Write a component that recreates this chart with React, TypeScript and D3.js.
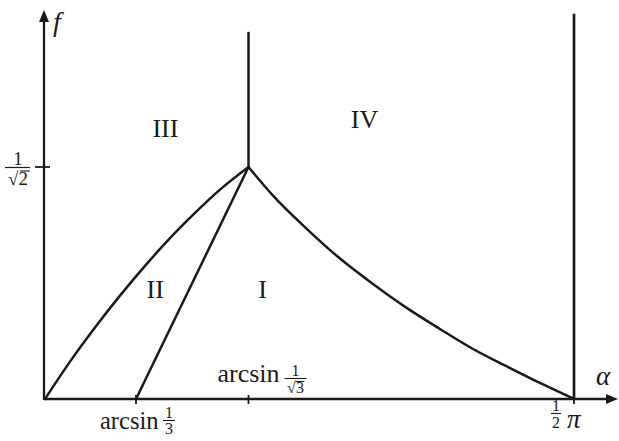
import React from "react";
import * as d3 from "d3";

// Characteristic angles on the α axis and the level on the f axis
const A1 = Math.asin(1 / 3);
const A2 = Math.asin(1 / Math.sqrt(3));
const A3 = Math.PI / 2;
const F1 = 1 / Math.SQRT2;

// Boundary between regions II and III (curved, concave)
const curveIIIII: [number, number][] = [
  [0, 0],
  [0.0934, 0.114],
  [0.1867, 0.218],
  [0.2801, 0.315],
  [0.3656, 0.411],
  [0.4231, 0.49],
  [0.4844, 0.567],
  [0.5456, 0.638],
  [A2, F1],
];

// Boundary between regions I and II (straight)
const lineIII: [number, number][] = [
  [A1, 0],
  [A2, F1],
];

// Boundary between regions I and IV (curved, convex)
const curveIIV: [number, number][] = [
  [A2, F1],
  [0.6874, 0.62],
  [0.7872, 0.518],
  [0.884, 0.428],
  [0.9809, 0.3505],
  [1.0807, 0.277],
  [1.1775, 0.2134],
  [1.2744, 0.1524],
  [1.3742, 0.0991],
  [1.471, 0.0488],
  [A3, 0],
];

// Boundary between regions III and IV (vertical)
const lineIIIIV: [number, number][] = [
  [A2, F1],
  [A2, 1.119],
];

// Right-hand limit α = π/2
const lineRight: [number, number][] = [
  [A3, 0],
  [A3, 1.174],
];

const regionNames = ["I", "II", "III", "IV"];
const regionAlpha = [0.657, 0.387, 0.412, 0.956];
const regionF = [0.308, 0.308, 0.799, 0.826];

const INK = "#1a1a1a";
const SERIF = "'Liberation Serif', 'Times New Roman', serif";

export default function App() {
  const width = 619;
  const height = 441;

  // schematic (piecewise) α axis
  const x = d3
    .scaleLinear()
    .domain([0, A1, A2, A3])
    .range([45, 136, 248.5, 574]);
  const y = d3.scaleLinear().domain([0, F1]).range([399, 167]);

  const line = d3
    .line<[number, number]>()
    .x((d) => x(d[0]))
    .y((d) => y(d[1]));
  const smooth = d3
    .line<[number, number]>()
    .x((d) => x(d[0]))
    .y((d) => y(d[1]))
    .curve(d3.curveMonotoneX);

  const x0 = x(0) - 1;
  const y0 = y(0);
  const xEnd = 618;
  const yTop = 10;

  const lw = 2.3;
  const fracSize = 16;

  const tA1 = x(A1);
  const tA2 = x(A2);
  const tA3 = x(A3);
  const tF = y(F1);

  return (
    <svg
      width={width}
      height={height}
      style={{ position: "absolute", left: 0, top: 0, background: "#fff" }}
      fontFamily={SERIF}
    >
      {/* axes */}
      <line x1={x0} y1={y0} x2={xEnd - 8} y2={y0} stroke={INK} strokeWidth={lw} />
      <path d={`M${xEnd},${y0} L${xEnd - 12},${y0 - 5} L${xEnd - 12},${y0 + 5} Z`} fill={INK} />
      <line x1={x0} y1={y0 + 1} x2={x0} y2={yTop + 8} stroke={INK} strokeWidth={lw} />
      <path d={`M${x0},${yTop} L${x0 - 5},${yTop + 12} L${x0 + 5},${yTop + 12} Z`} fill={INK} />

      {/* ticks */}
      {[tA1, tA2, tA3].map((t, i) => (
        <line key={i} x1={t} x2={t} y1={y0 - 4} y2={y0 + 5} stroke={INK} strokeWidth={1.8} />
      ))}
      <line x1={x0 - 9} x2={x0 + 6} y1={tF} y2={tF} stroke={INK} strokeWidth={1.8} />

      {/* boundaries */}
      <g fill="none" stroke={INK} strokeWidth={2.5} strokeLinejoin="round" strokeLinecap="round">
        <path d={smooth(curveIIIII) ?? ""} />
        <path d={line(lineIII) ?? ""} />
        <path d={smooth(curveIIV) ?? ""} />
        <path d={line(lineIIIIV) ?? ""} strokeLinecap="butt" />
        <path d={line(lineRight) ?? ""} strokeLinecap="butt" strokeWidth={2.7} />
      </g>

      {/* region labels */}
      {regionNames.map((n, i) => (
        <text
          key={n}
          x={x(regionAlpha[i])}
          y={y(regionF[i])}
          textAnchor="middle"
          fontSize={26}
          fill={INK}
        >
          {n}
        </text>
      ))}

      {/* axis names */}
      <text x={x0 + 9} y={31} fontSize={28} fontStyle="italic" fill={INK}>
        f
      </text>
      <text x={596} y={385} fontSize={27} fontStyle="italic" fill={INK}>
        α
      </text>

      {/* f tick label 1/√2 */}
      <g fill={INK} fontSize={19} textAnchor="middle">
        <text x={18} y={165}>1</text>
        <line x1={5} x2={30} y1={tF + 0.5} y2={tF + 0.5} stroke={INK} strokeWidth={1.2} />
        <text x={18} y={185}>√2</text>
        <line x1={20} x2={30} y1={171} y2={171} stroke={INK} strokeWidth={1.1} />
      </g>

      {/* α tick label arcsin 1/3 */}
      <g fill={INK}>
        <text x={tA1 - 36} y={429} fontSize={24.5}>arcsin</text>
        <text x={tA1 + 33} y={418} fontSize={fracSize} textAnchor="middle">1</text>
        <line x1={tA1 + 27} x2={tA1 + 39} y1={420.5} y2={420.5} stroke={INK} strokeWidth={1.1} />
        <text x={tA1 + 33} y={434} fontSize={fracSize} textAnchor="middle">3</text>
      </g>

      {/* α tick label arcsin 1/√3 */}
      <g fill={INK}>
        <text x={tA2 - 31} y={382} fontSize={26}>arcsin</text>
        <text x={tA2 + 47} y={376} fontSize={fracSize} textAnchor="middle">1</text>
        <line x1={tA2 + 36} x2={tA2 + 58} y1={378.5} y2={378.5} stroke={INK} strokeWidth={1.1} />
        <text x={tA2 + 47} y={393} fontSize={fracSize} textAnchor="middle">√3</text>
        <line x1={tA2 + 47} x2={tA2 + 56} y1={381.5} y2={381.5} stroke={INK} strokeWidth={1} />
      </g>

      {/* α tick label π/2 */}
      <g fill={INK}>
        <text x={tA3 - 18} y={411} fontSize={fracSize} textAnchor="middle">1</text>
        <line x1={tA3 - 23} x2={tA3 - 13} y1={413.5} y2={413.5} stroke={INK} strokeWidth={1.1} />
        <text x={tA3 - 18} y={428} fontSize={fracSize} textAnchor="middle">2</text>
        <text x={tA3 - 7} y={428} fontSize={27} fontStyle="italic">π</text>
      </g>
    </svg>
  );
}
